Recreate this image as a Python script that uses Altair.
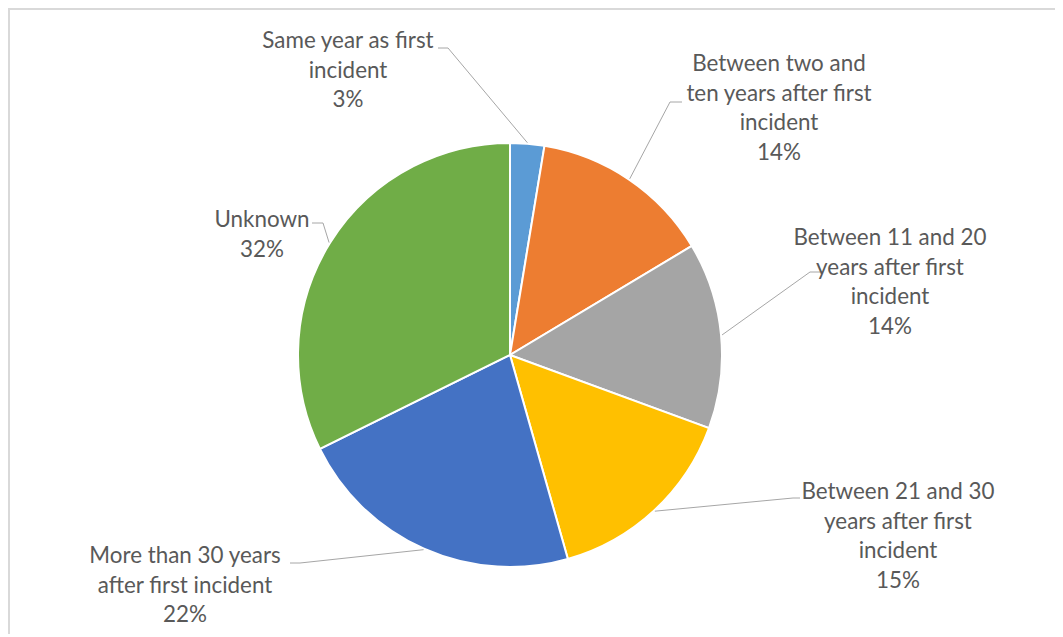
import altair as alt
import numpy as np
import pandas as pd

# ---- data ----
categories = [
    "Same year as first incident",
    "Between two and ten years after first incident",
    "Between 11 and 20 years after first incident",
    "Between 21 and 30 years after first incident",
    "More than 30 years after first incident",
    "Unknown",
]
values = [2.6, 13.8, 14.2, 15.0, 22.1, 32.3]
pct_labels = ["3%", "14%", "14%", "15%", "22%", "32%"]
label_lines = [
    ["Same year as first", "incident"],
    ["Between two and", "ten years after first", "incident"],
    ["Between 11 and 20", "years after first", "incident"],
    ["Between 21 and 30", "years after first", "incident"],
    ["More than 30 years", "after first incident"],
    ["Unknown"],
]
colors = ["#5B9BD5", "#ED7D31", "#A5A5A5", "#FFC000", "#4472C4", "#70AD47"]

# ---- layout (chart pixel coords) ----
W, H = 1047, 626
CX, CY, R = 502, 347, 212
label_pos = [(340, 33), (771, 56), (882, 230), (890, 484), (177, 548), (254, 212)]
leader_elbow = [(440, 40), (662, 94), (802, 264), (785, 490), (292, 555), (315, 215)]
leader_end = [(430, 40), (674, 94), (812, 264), (792, 490), (282, 555), (304, 215)]

df = pd.DataFrame({"category": categories, "value": values, "order": list(range(len(values)))})

lab = pd.DataFrame({
    "category": categories,
    "text": ["\n".join(l + [p]) for l, p in zip(label_lines, pct_labels)],
    "lx": [p[0] for p in label_pos],
    "ly": [p[1] for p in label_pos],
})

total = sum(values)
cum = np.cumsum(values)
rows = []
for i, v in enumerate(values):
    mid = (cum[i] - v / 2) / total * 2 * np.pi
    ex, ey = CX + (R + 1) * np.sin(mid), CY - (R + 1) * np.cos(mid)
    pts = [(ex, ey), leader_elbow[i], leader_end[i]]
    for k, (px, py) in enumerate(pts):
        rows.append({"slice": categories[i], "seq": k, "px": px, "py": py})
lead = pd.DataFrame(rows)

pie = alt.Chart(df).mark_arc(outerRadius=R, stroke="white", strokeWidth=2).encode(
    theta=alt.Theta("value:Q", stack=True),
    order=alt.Order("order:O"),
    color=alt.Color("category:N", scale=alt.Scale(domain=categories, range=colors), legend=None),
    x=alt.value(CX),
    y=alt.value(CY),
)

leaders = alt.Chart(lead).mark_line(color="#A6A6A6", strokeWidth=1).encode(
    x=alt.X("px:Q", scale=None),
    y=alt.Y("py:Q", scale=None),
    detail="slice:N",
    order="seq:O",
)

labels = alt.Chart(lab).mark_text(
    font="Lato", fontSize=22.4, color="#595959", align="center", baseline="middle",
    lineBreak="\n", lineHeight=29.5,
).encode(
    x=alt.X("lx:Q", scale=None),
    y=alt.Y("ly:Q", scale=None),
    text="text:N",
)

border_df = pd.DataFrame({"x1": [0, 1], "x2": [W, 1], "y1": [1, 0], "y2": [1, H]})
border = alt.Chart(border_df).mark_rule(color="#D9D9D9", strokeWidth=2).encode(
    x=alt.X("x1:Q", scale=None), x2="x2:Q",
    y=alt.Y("y1:Q", scale=None), y2="y2:Q",
)

chart = alt.layer(border, pie, leaders, labels).properties(
    width=W, height=H, autosize=alt.AutoSizeParams(type="none"), padding=0,
).configure_view(stroke=None).configure_axis(disable=True)

chart.save("out.html", embed_options={"renderer": "svg", "actions": False})
